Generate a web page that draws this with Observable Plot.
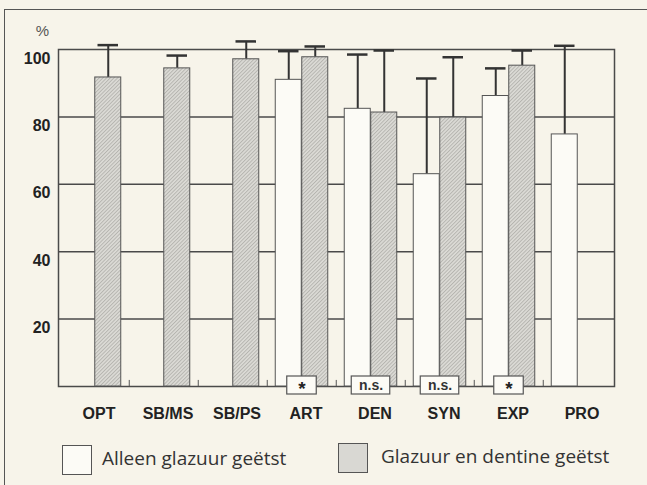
<!DOCTYPE html>
<html><head><meta charset="utf-8">
<script src="https://cdn.jsdelivr.net/npm/d3@7"></script>
<script src="https://cdn.jsdelivr.net/npm/@observablehq/plot@0.6"></script>
<style>
body{margin:0;background:#f7f4ea;}
#fig{position:relative;width:647px;height:485px;overflow:hidden;background:#f7f4ea;}
#border{position:absolute;left:4px;top:9px;width:700px;height:600px;border-left:1.5px solid #555;border-top:1.5px solid #555;}
#chart{position:absolute;left:0;top:0;}
.lg{position:absolute;font-family:"Open Sans",Lato,sans-serif;font-size:19px;color:#333;}
.sw{position:absolute;width:28px;height:28px;border:1.3px solid #555;}
</style></head>
<body><div id="fig"><div id="border"></div><div id="chart"></div>
<div class="sw" style="left:62px;top:445px;background:#fcfbf6"></div>
<div class="lg" id="lg1" style="left:102px;top:445px"></div>
<div class="sw" style="left:338px;top:443px;background:#d9d8d3"></div>
<div class="lg" id="lg2" style="left:381px;top:443px"></div>
</div>
<script>
const categories = ["OPT","SB/MS","SB/PS","ART","DEN","SYN","EXP","PRO"];
const seriesNames = ["Alleen glazuur geëtst","Glazuur en dentine geëtst"];
const enamelMean = [null,null,null,91.0,82.4,63.0,86.2,74.8];
const enamelSD   = [null,null,null,8.5,16.1,28.4,8.2,26.3];
const bothMean   = [91.7,94.4,97.1,97.7,81.3,79.8,95.2,null];
const bothSD     = [9.6,3.8,5.3,3.2,18.4,17.9,4.5,null];
const significance = [null,null,null,"*","n.s.","n.s.","*",null];
const yTicks = [20,40,60,80,100];

document.getElementById("lg1").textContent = seriesNames[0];
document.getElementById("lg2").textContent = seriesNames[1];

const rows = categories.map((c,i)=>({cat:c, em:enamelMean[i], esd:enamelSD[i], bm:bothMean[i], bsd:bothSD[i], sig:significance[i]}));
const E = rows.filter(d=>d.em!=null);
const B = rows.filter(d=>d.bm!=null);
const S1 = rows.filter(d=>d.sig==="*");
const S2 = rows.filter(d=>d.sig==="n.s.");

const hatch = () => {
  const ns = "http://www.w3.org/2000/svg";
  const defs = document.createElementNS(ns,"defs");
  defs.innerHTML = '<pattern id="hatch" width="2.6" height="2.6" patternUnits="userSpaceOnUse" patternTransform="rotate(45)"><rect width="2.6" height="2.6" fill="#dcdbd6"/><line x1="0.5" y1="0" x2="0.5" y2="2.6" stroke="#b3b2ad" stroke-width="0.9"/></pattern>';
  return defs;
};

const ink = "#333";
const chart = Plot.plot({
  width:647, height:430,
  marginLeft:58, marginRight:33, marginTop:49, marginBottom:44,
  style:{background:"transparent", fontFamily:"'Liberation Sans', Arial, sans-serif", color:"#222"},
  x:{domain:categories, padding:0},
  y:{domain:[0,100]},
  marks:[
    hatch,
    Plot.ruleY([20,40,60,80], {stroke:"#4a4a4a", strokeWidth:1.5}),
    Plot.frame({stroke:"#4a4a4a", strokeWidth:1.5}),
    Plot.ruleX(categories.slice(1), {x:d=>d, y1:0, y2:1.8, dx:-34.75, stroke:"#555", strokeWidth:1}),
    Plot.ruleX(E, {x:"cat", y1:"em", y2:d=>d.em+d.esd, dx:-13.25, stroke:ink, strokeWidth:2}),
    Plot.tickY(E, {x:"cat", y:d=>d.em+d.esd, insetLeft:11, insetRight:37.5, stroke:ink, strokeWidth:2.5}),
    Plot.ruleX(B, {x:"cat", y1:"bm", y2:d=>d.bm+d.bsd, dx:13.25, stroke:ink, strokeWidth:2}),
    Plot.tickY(B, {x:"cat", y:d=>d.bm+d.bsd, insetLeft:37.5, insetRight:11, stroke:ink, strokeWidth:2.5}),
    Plot.barY(E, {x:"cat", y:"em", fill:"#fcfbf6", stroke:"#555", strokeWidth:1, insetLeft:8.25, insetRight:34.75}),
    Plot.barY(B, {x:"cat", y:"bm", fill:"url(#hatch)", stroke:"#555", strokeWidth:1, insetLeft:34.75, insetRight:8.25}),
    Plot.barY(S1, {x:"cat", y1:0, y2:0, insetTop:-10, insetBottom:-8, insetLeft:19.75, insetRight:19.75, fill:"#fcfbf6", stroke:"#555", strokeWidth:1.2}),
    Plot.barY(S2, {x:"cat", y1:0, y2:0, insetTop:-10, insetBottom:-8, insetLeft:15.25, insetRight:15.25, fill:"#fcfbf6", stroke:"#555", strokeWidth:1.2}),
    Plot.text(S1, {x:"cat", y:0, text:"sig", dy:2, fontSize:19, fontWeight:"bold", fill:"#222"}),
    Plot.text(S2, {x:"cat", y:0, text:"sig", dy:-1, fontSize:14, fontWeight:"bold", fill:"#333"}),
    Plot.axisX({tickSize:0, tickPadding:21, dx:4, fontSize:16, fontWeight:"bold", label:null}),
    Plot.axisY(yTicks, {tickSize:0, tickPadding:8, dy:9, fontSize:16, fontWeight:"bold", label:null}),
    Plot.text(["%"], {frameAnchor:"top-left", dx:-16, dy:-18, textAnchor:"middle", lineAnchor:"middle", fontSize:15, fill:"#555"})
  ]
});
document.getElementById("chart").appendChild(chart);
</script>
</body></html>
